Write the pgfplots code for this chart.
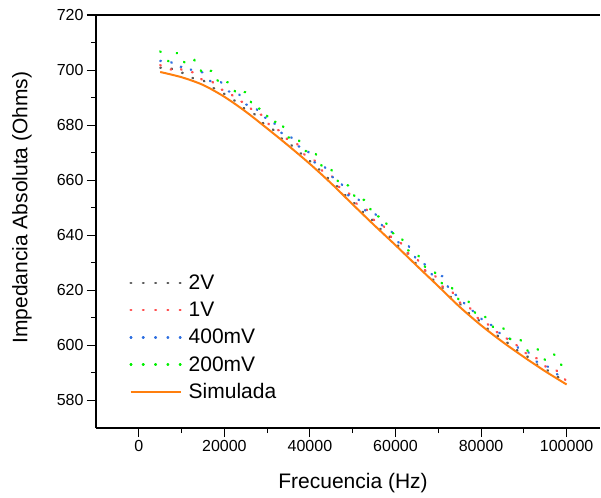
\documentclass[border=0pt]{standalone}
\usepackage{pgfplots}
\usepackage{pgfplotstable}
\usepackage{fontspec}
\setmainfont{Liberation Sans}
\pgfplotsset{compat=1.18}

\definecolor{c2v}{HTML}{5A5A5A}
\definecolor{c1v}{HTML}{FF4D4D}
\definecolor{c400}{HTML}{2E6FE0}
\definecolor{c200}{HTML}{00F000}
\definecolor{csim}{HTML}{FF7F0E}

% frecuencia, 2V, 1V, 400mV, 200mV
\pgfplotstableread{
f      a      b      c      d
5000   700.8  701.8  703.3  706.8
7000   701.4  699.8  703.8  703.1
9000   698.8  701.4  700.6  706.3
11000  699.1  698.9  701.9  702.1
13000  696.6  699.3  699.0  703.6
15000  696.4  696.1  699.2  698.6
17000  693.6  696.0  695.5  699.8
19000  692.8  693.0  696.0  694.8
21000  689.9  692.4  692.2  695.7
23000  688.5  688.7  692.3  691.1
25000  685.5  688.3  687.5  692.1
27000  684.0  684.5  686.9  686.0
29000  680.8  683.6  682.8  686.0
31000  679.1  678.9  682.5  680.7
33000  675.5  678.0  677.2  681.8
35000  673.8  674.3  677.1  675.5
37000  670.5  673.2  672.3  675.5
39000  668.7  668.7  672.0  670.6
41000  665.2  667.3  666.5  670.7
43000  663.0  663.2  665.8  664.4
45000  659.3  661.8  661.4  663.8
47000  657.0  657.2  659.6  658.4
49000  653.1  655.5  654.5  658.1
51000  651.0  651.3  653.9  652.7
53000  647.3  649.9  648.9  652.9
55000  645.1  645.5  648.5  646.9
57000  641.3  643.8  643.2  646.8
59000  639.1  639.3  641.5  640.9
61000  635.5  637.7  636.7  640.1
63000  633.2  633.4  636.3  634.5
65000  629.3  631.5  630.9  633.5
67000  627.1  627.1  629.3  628.3
69000  623.5  625.8  624.6  627.0
71000  621.0  621.4  625.2  622.2
73000  617.4  620.0  619.0  621.4
75000  615.2  615.6  617.8  616.0
77000  611.8  614.5  613.1  616.1
79000  609.9  610.1  612.0  610.8
81000  606.5  608.7  607.7  610.3
83000  604.8  605.1  607.3  606.3
85000  601.9  604.3  603.1  606.7
87000  600.3  600.7  602.3  601.9
89000  597.4  599.7  598.5  602.5
91000  595.8  596.2  597.6  597.8
93000  593.1  595.3  594.1  599.1
95000  591.6  592.4  593.2  594.6
97000  589.2  591.7  590.1  596.9
99000  587.8  589.0  588.6  592.4
100000 587.0  586.8  587.4  593.8
}\medidas

\pgfplotstableread{
f      z
5000   699.3
10000  697.4
15000  694.6
20000  690.3
25000  684.9
30000  678.8
35000  672.5
40000  665.9
45000  658.8
50000  651.2
55000  643.7
60000  636.4
65000  628.9
70000  621.5
75000  614.0
80000  607.3
85000  601.3
90000  595.8
95000  590.6
100000 585.8
}\simulada

\begin{document}
\begin{tikzpicture}
\begin{axis}[
    name=ax,
    scale only axis,
    width=504bp, height=413bp,
    xmin=-10000, xmax=107800,
    ymin=570, ymax=720,
    axis x line*=box, axis y line*=left,
    xtick pos=left,
    xtick={0,20000,...,100000},
    ytick={580,600,...,720},
    minor x tick num=1, minor y tick num=1,
    scaled x ticks=false,
    /pgf/number format/fixed,
    /pgf/number format/1000 sep={},
    /pgf/number format/assume math mode=true,
    tick align=outside,
    major tick length=9bp, minor tick length=5bp,
    every tick/.style={line width=1.1bp, black},
    axis line style={line width=1.2bp},
    tick label style={font=\fontsize{16bp}{19bp}\selectfont},
    label style={font=\fontsize{21bp}{25bp}\selectfont},
    xlabel={Frecuencia (Hz)},
    ylabel={Impedancia Absoluta (Ohms)},
    xlabel style={at={(axis description cs:0.51,-0.133)}, anchor=center},
    ylabel style={at={(axis description cs:-0.147,0.534)}, anchor=center},
    legend cell align=left,
    legend style={draw=none, fill=none, at={(axis description cs:0.06,0.057)},
      anchor=south west, font=\fontsize{21bp}{25bp}\selectfont,
      row sep=7bp},
    legend image code/.code={\draw[#1] (0bp,0bp) -- (50bp,0bp); \path (55bp,0bp);},
    dots/.style={line width=2.3bp, line cap=round, dash pattern=on 0.8bp off 11.5bp},
]
\addplot[c2v, dots] table[x=f, y=a] {\medidas};
\addlegendentry{2V}
\addplot[c1v, dots] table[x=f, y=b] {\medidas};
\addlegendentry{1V}
\addplot[c400, dots] table[x=f, y=c] {\medidas};
\addlegendentry{400mV}
\addplot[c200, dots] table[x=f, y=d] {\medidas};
\addlegendentry{200mV}
\addplot[csim, line width=2bp, smooth] table[x=f, y=z] {\simulada};
\addlegendentry{Simulada}
\end{axis}
\path (ax.south west) ++(-96bp,-70bp) coordinate (bl);
\path (ax.north east) ++(1bp,15bp) coordinate (tr);
\pgfresetboundingbox
\path (bl) rectangle (tr);
\end{tikzpicture}
\end{document}
